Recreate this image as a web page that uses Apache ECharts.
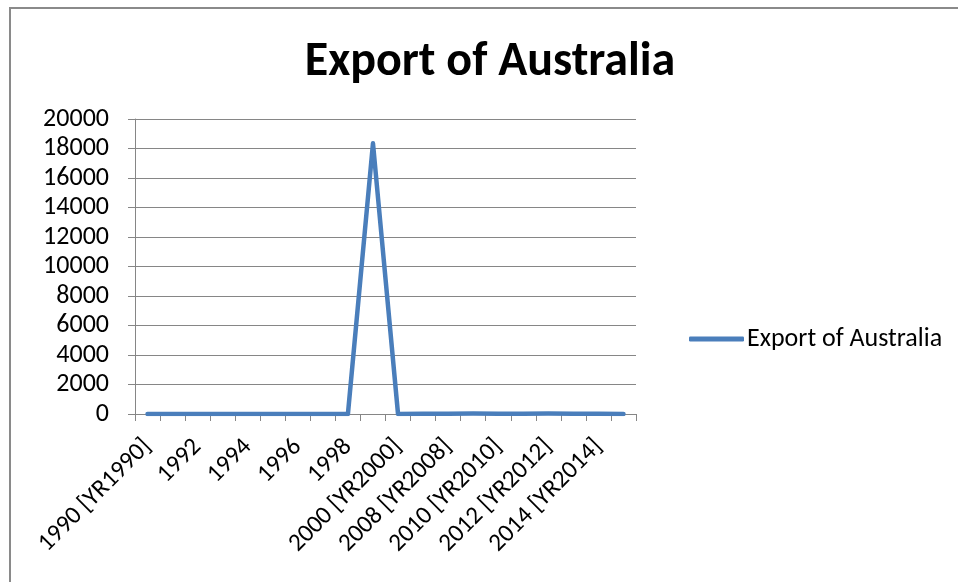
<!DOCTYPE html>
<html><head><meta charset="utf-8">
<script src="https://cdn.jsdelivr.net/npm/echarts@6/dist/echarts.min.js"></script>
<style>
html,body{margin:0;padding:0;background:#fff;overflow:hidden;}
#wrap{position:relative;width:958px;height:582px;overflow:hidden;}
#frame{position:absolute;left:9px;top:7px;width:1000px;height:700px;border-left:2px solid #8a8a8a;border-top:2px solid #8a8a8a;box-sizing:border-box;}
#c{position:absolute;left:0;top:0;width:958px;height:582px;}
</style></head><body>
<div id="wrap"><div id="frame"></div><div id="c"></div></div>
<script>
const categories = ['1990 [YR1990]','1991','1992','1993','1994','1995','1996','1997','1998','1999',
  '2000 [YR2000]','2007 [YR2007]','2008 [YR2008]','2009 [YR2009]','2010 [YR2010]','2011 [YR2011]',
  '2012 [YR2012]','2013 [YR2013]','2014 [YR2014]','2015 [YR2015]'];
const exportValues = [0,0,0,0,0,0,0,0,0,18350,0,10,20,30,10,20,30,20,10,0];
const seriesName = 'Export of Australia';
const titleText = 'Export of Australia';

const chart = echarts.init(document.getElementById('c'), null, {renderer:'canvas'});
const font = 'Carlito, Calibri, "Open Sans", sans-serif';
chart.setOption({
  animation:false,
  title:{text:titleText,left:485,top:34,textAlign:'center',
    textStyle:{fontFamily:font,fontSize:48,fontWeight:'bold',color:'#000'}},
  legend:{data:[seriesName],left:684,top:321,itemWidth:55,itemHeight:5,itemGap:4,
    icon:'roundRect',
    textStyle:{fontFamily:font,fontSize:26,color:'#000',padding:[0,0,0,-2]}},
  grid:{left:135,right:322,top:119,bottom:168},
  xAxis:{type:'category',data:categories,boundaryGap:true,
    axisLine:{lineStyle:{color:'#868686',width:1}},
    axisTick:{show:true,interval:0,length:7,lineStyle:{color:'#868686'}},
    axisLabel:{interval:1,rotate:45,margin:29,fontFamily:font,fontSize:25,color:'#000'}},
  yAxis:{type:'value',min:0,max:20000,interval:2000,
    axisLine:{show:true,lineStyle:{color:'#868686'}},
    axisTick:{show:true,length:7,lineStyle:{color:'#868686'}},
    splitLine:{lineStyle:{color:'#868686',width:1}},
    axisLabel:{margin:26,fontFamily:font,fontSize:26,color:'#000',formatter:v=>String(v)}},
  series:[{name:seriesName,type:'line',data:exportValues,showSymbol:false,symbol:'none',
    lineStyle:{color:'#4a7ebb',width:4.5,cap:'round',join:'round'},itemStyle:{color:'#4a7ebb'}}]
});
</script></body></html>
